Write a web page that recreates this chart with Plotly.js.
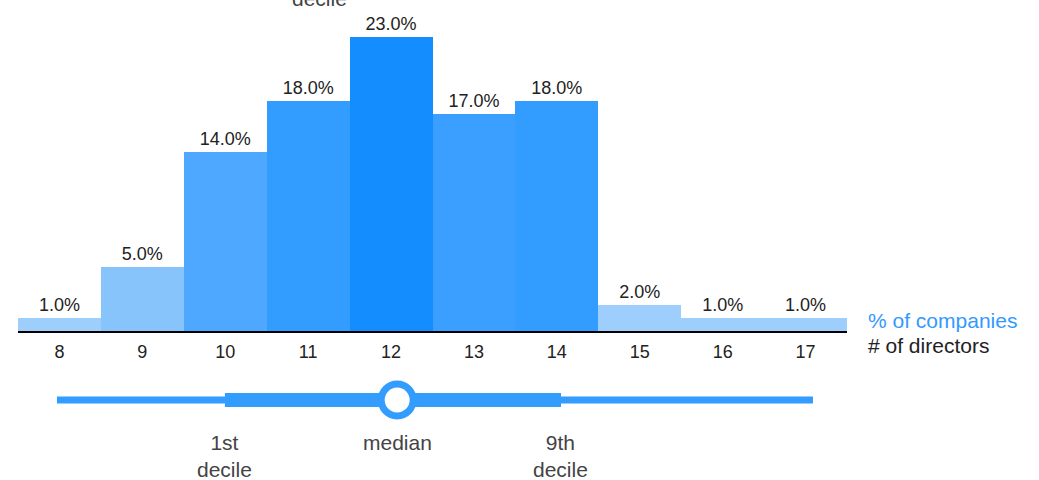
<!DOCTYPE html>
<html>
<head>
<meta charset="utf-8">
<script src="https://cdn.plot.ly/plotly-3.0.1.min.js"></script>
<style>html,body{margin:0;padding:0;background:#fff;}#chart{width:1039px;height:480px;}</style>
</head>
<body>
<div id="chart"></div>
<script>
// Data
const directors = [8, 9, 10, 11, 12, 13, 14, 15, 16, 17];
const pctCompanies = [1, 5, 14, 18, 23, 17, 18, 2, 1, 1];
const barColors = ['#9dcefc', '#88c4fc', '#4ea8ff', '#339cff', '#148dff', '#3a9fff', '#339cff', '#9dcefc', '#9dcefc', '#9dcefc'];
const rangeMinMax = [8, 17];
const decile1 = 10;
const decile9 = 14;
const median = 12.05;

const blue = '#339cff';
const FONT = 'Liberation Sans, Arial, sans-serif';

const W = 1039, H = 480;
const py = p => 1 - p / H;

const traces = [
  {
    type: 'bar', x: directors, y: pctCompanies,
    marker: {color: barColors, line: {width: 0}},
    texttemplate: '%{y:.1f}%', textposition: 'outside',
    textfont: {family: FONT, size: 18, color: '#222'},
    cliponaxis: false, hoverinfo: 'skip', xaxis: 'x', yaxis: 'y'
  },
  {
    type: 'scatter', mode: 'lines', x: rangeMinMax, y: [0, 0],
    line: {color: blue, width: 7}, xaxis: 'x2', yaxis: 'y2', hoverinfo: 'skip'
  },
  {
    type: 'scatter', mode: 'lines', x: [decile1, decile9], y: [0, 0],
    line: {color: blue, width: 14}, xaxis: 'x2', yaxis: 'y2', hoverinfo: 'skip'
  },
  {
    type: 'scatter', mode: 'markers', x: [median], y: [0],
    marker: {size: 32, color: '#fff', line: {color: blue, width: 7}},
    xaxis: 'x2', yaxis: 'y2', hoverinfo: 'skip', cliponaxis: false
  }
];

const annotations = [
  {xref: 'paper', yref: 'paper', x: (866 - 18) / 829, y: py(320), xanchor: 'left', yanchor: 'middle',
   text: '% of companies', showarrow: false, font: {family: FONT, size: 21, color: '#3399ff'}},
  {xref: 'paper', yref: 'paper', x: (866 - 18) / 829, y: py(345), xanchor: 'left', yanchor: 'middle',
   text: '# of directors', showarrow: false, font: {family: FONT, size: 21, color: '#222'}},
  {xref: 'x2', yref: 'paper', x: decile1, y: py(429), xanchor: 'center', yanchor: 'top',
   text: '1st<br>decile', showarrow: false, font: {family: FONT, size: 21, color: '#444'}},
  {xref: 'x2', yref: 'paper', x: median, y: py(429), xanchor: 'center', yanchor: 'top',
   text: 'median', showarrow: false, font: {family: FONT, size: 21, color: '#444'}},
  {xref: 'x2', yref: 'paper', x: decile9, y: py(429), xanchor: 'center', yanchor: 'top',
   text: '9th<br>decile', showarrow: false, font: {family: FONT, size: 21, color: '#444'}},
  {xref: 'paper', yref: 'paper', x: (319.5 - 18) / 829, y: py(12), xanchor: 'center', yanchor: 'bottom',
   text: 'decile', showarrow: false, font: {family: FONT, size: 21, color: '#444'}}
];

const layout = {
  width: W, height: H,
  margin: {l: 18, r: 192, t: 0, b: 0, pad: 0},
  paper_bgcolor: '#fff', plot_bgcolor: '#fff',
  showlegend: false, bargap: 0,
  font: {family: FONT, color: '#222'},
  xaxis: {
    domain: [0, 1], range: [7.5, 17.5], anchor: 'y',
    tickmode: 'array', tickvals: directors, ticktext: directors.map(String),
    showline: true, linecolor: '#000', linewidth: 2,
    showgrid: false, zeroline: false, ticks: '', ticklen: 0, ticklabelstandoff: 3,
    tickfont: {family: FONT, size: 18, color: '#222'}, fixedrange: true
  },
  yaxis: {
    domain: [1 - 331 / H, 1], range: [0, 331 / 12.78], visible: false, fixedrange: true
  },
  xaxis2: {
    domain: [0, 1], range: [7.536, 17.405], anchor: 'y2', visible: false, fixedrange: true
  },
  yaxis2: {
    domain: [py(420), py(380)], range: [-1, 1], visible: false, fixedrange: true
  },
  annotations: annotations
};

Plotly.newPlot('chart', traces, layout, {displayModeBar: false, staticPlot: true});
</script>
</body>
</html>
